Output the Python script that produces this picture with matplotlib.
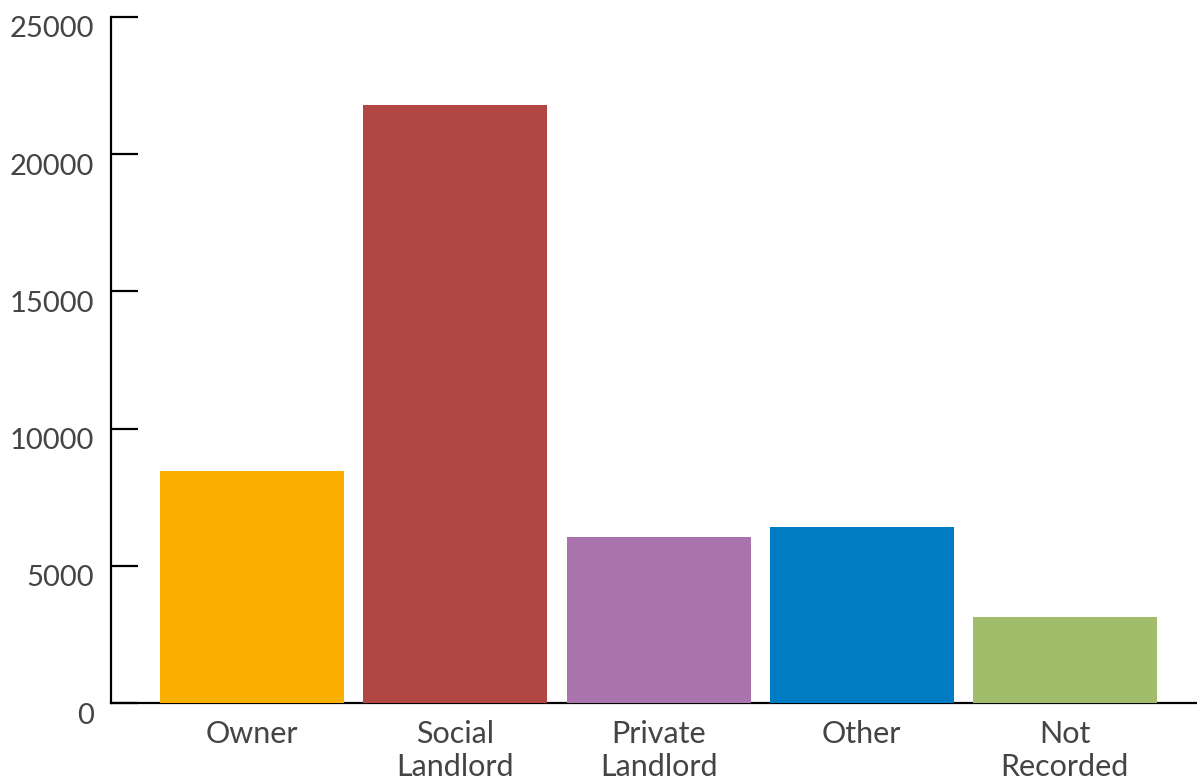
import matplotlib
matplotlib.use("Agg")
import matplotlib.pyplot as plt
from matplotlib.transforms import ScaledTranslation

categories = ["Owner", "Social\nLandlord", "Private\nLandlord", "Other", "Not\nRecorded"]
values = [8450, 21800, 6050, 6420, 3130]
colors = ["#F9AE00", "#B04744", "#A973AB", "#007CC2", "#A1BC6A"]
yticks = [0, 5000, 10000, 15000, 20000, 25000]

plt.rcParams["font.family"] = ["Lato", "DejaVu Sans"]
fig = plt.figure(figsize=(11.97, 7.80), dpi=100)
ax = fig.add_axes([111/1197, 77/780, 1 - 111/1197, (703-17)/780])

x = list(range(len(categories)))
ax.bar(x, values, width=0.906, color=colors, zorder=3)
ax.set_xlim(-0.695, 4.65)
ax.set_ylim(0, 25000)
ax.set_yticks(yticks)
ax.set_yticklabels([str(v) for v in yticks])
ax.set_xticks(x)
ax.set_xticklabels(categories, linespacing=1.22)

for s in ["top", "right"]:
    ax.spines[s].set_visible(False)
for s in ["left", "bottom"]:
    ax.spines[s].set_linewidth(1.6)
    ax.spines[s].set_color("black")

txtc = "#444444"
ax.tick_params(axis="y", direction="in", length=19.5, width=1.6, pad=12,
               labelsize=21, labelcolor=txtc)
ax.tick_params(axis="x", length=0, pad=12, labelsize=22, labelcolor=txtc)

off = ScaledTranslation(0, -0.10, fig.dpi_scale_trans)
for lab in ax.get_yticklabels():
    lab.set_transform(lab.get_transform() + off)

fig.savefig("out.png", dpi=100)
